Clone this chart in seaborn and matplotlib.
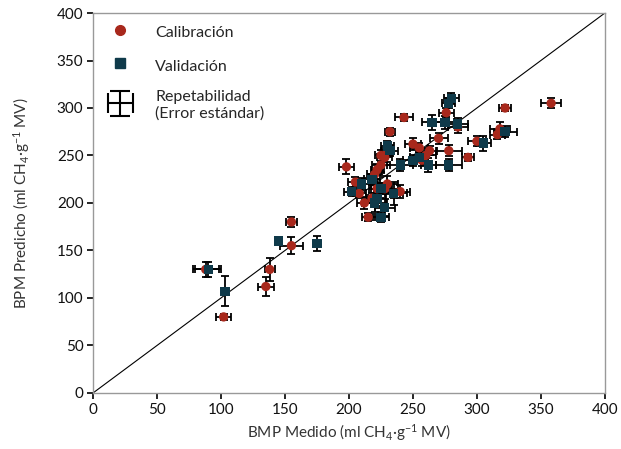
import matplotlib
matplotlib.use("Agg")
import matplotlib.pyplot as plt
import numpy as np
import pandas as pd
import seaborn as sns
from matplotlib.lines import Line2D
from matplotlib.container import ErrorbarContainer
from matplotlib.legend_handler import HandlerErrorbar

# --- datos ---
cal_x = [358, 322, 318, 316, 293, 285, 276, 270, 263, 260, 257, 255, 250, 243,
         232, 230, 228, 225, 222, 220, 225, 230, 228, 235, 240, 222, 218, 212,
         208, 215, 205, 198, 155, 155, 135, 138, 102, 88, 300, 278]
cal_y = [305, 300, 278, 272, 248, 280, 295, 268, 255, 250, 245, 258, 262, 290,
         275, 255, 248, 240, 235, 230, 250, 220, 215, 210, 212, 215, 205, 200,
         210, 185, 222, 238, 180, 155, 112, 130, 80, 130, 265, 255]
cal_xerr = [8, 5, 8, 6, 5, 8, 6, 7, 6, 8, 5, 7, 6, 7,
            4, 5, 6, 7, 5, 6, 5, 8, 6, 7, 8, 6, 5, 6,
            5, 5, 6, 6, 4, 9, 6, 4, 6, 10, 7, 10]
cal_yerr = [5, 3, 7, 5, 4, 6, 5, 6, 5, 7, 6, 5, 6, 4,
            4, 6, 5, 7, 6, 5, 6, 8, 6, 5, 7, 6, 5, 6,
            5, 4, 5, 8, 5, 9, 10, 12, 3, 8, 5, 6]

val_x = [280, 278, 265, 275, 285, 322, 305, 278, 255, 250, 262, 240, 230, 232,
         225, 222, 218, 220, 225, 235, 228, 210, 202, 145, 175, 103, 90]
val_y = [310, 305, 285, 285, 283, 275, 263, 240, 248, 245, 240, 240, 260, 255,
         215, 205, 225, 200, 185, 210, 195, 220, 212, 160, 157, 107, 130]
val_xerr = [6, 5, 8, 7, 8, 9, 6, 10, 7, 8, 6, 10, 5, 6,
            8, 7, 6, 10, 6, 10, 8, 7, 6, 3, 2, 3, 10]
val_yerr = [6, 5, 8, 7, 6, 6, 8, 6, 5, 6, 7, 6, 5, 6,
            6, 8, 6, 10, 5, 12, 9, 6, 5, 2, 8, 16, 8]

ticks = [0, 50, 100, 150, 200, 250, 300, 350, 400]

rojo = "#a8281c"
azul = "#0f3a4a"

df = pd.concat([
    pd.DataFrame({"x": cal_x, "y": cal_y, "grupo": "Calibración"}),
    pd.DataFrame({"x": val_x, "y": val_y, "grupo": "Validación"}),
])

sns.set_theme(style="ticks")
plt.rcParams["font.family"] = ["Lato", "DejaVu Sans"]
plt.rcParams["mathtext.fontset"] = "custom"
plt.rcParams["mathtext.rm"] = "Lato"
plt.rcParams["mathtext.it"] = "Lato:italic"

fig = plt.figure(figsize=(6.21, 4.49), dpi=100)
ax = fig.add_axes([0.150, 0.125, 0.824, 0.846])

# linea 1:1
ax.plot([0, 400], [0, 400], color="black", lw=0.8, zorder=1)

# barras de error
ax.errorbar(cal_x, cal_y, xerr=cal_xerr, yerr=cal_yerr, fmt="none",
            ecolor="black", elinewidth=1.3, capsize=3, capthick=1.3, zorder=2)
ax.errorbar(val_x, val_y, xerr=val_xerr, yerr=val_yerr, fmt="none",
            ecolor="black", elinewidth=1.3, capsize=3, capthick=1.3, zorder=2)

sns.scatterplot(data=df, x="x", y="y", hue="grupo", style="grupo",
                markers={"Calibración": "o", "Validación": "s"},
                palette={"Calibración": rojo, "Validación": azul},
                s=45, edgecolor="none", legend=False, ax=ax, zorder=3)

ax.set_xlim(0, 400)
ax.set_ylim(0, 400)
ax.set_xticks(ticks)
ax.set_yticks(ticks)
ax.tick_params(axis="both", direction="out", length=4, width=1.2,
               color="black", labelsize=11, pad=3, labelcolor="#111111")

for s in ax.spines.values():
    s.set_color("#999999")
    s.set_linewidth(1.0)

ax.set_xlabel(r"BMP Medido (ml CH$_4$·g$^{-1}$ MV)", fontsize=11, color="#333333")
ax.set_ylabel(r"BPM Predicho (ml CH$_4$·g$^{-1}$ MV)", fontsize=11,
              color="#333333", labelpad=18)

# leyenda
h_cal = Line2D([], [], marker="o", ls="none", color=rojo, markersize=7)
h_val = Line2D([], [], marker="s", ls="none", color=azul, markersize=7)
h_err = ax.errorbar([np.nan], [np.nan], xerr=[1], yerr=[1], fmt="none",
                    ecolor="black", elinewidth=1.5, capsize=7, capthick=1.5)
ax.legend([h_cal, h_val, h_err],
          ["Calibración", "Validación", "Repetabilidad\n(Error estándar)"],
          loc="upper left", frameon=False, fontsize=11.5, labelspacing=0.95,
          handlelength=2.2, handleheight=1.4, handletextpad=1.1,
          borderaxespad=0.2,
          handler_map={ErrorbarContainer: HandlerErrorbar(xerr_size=0.8,
                                                          yerr_size=0.8)})

plt.savefig("out.png", dpi=100)
